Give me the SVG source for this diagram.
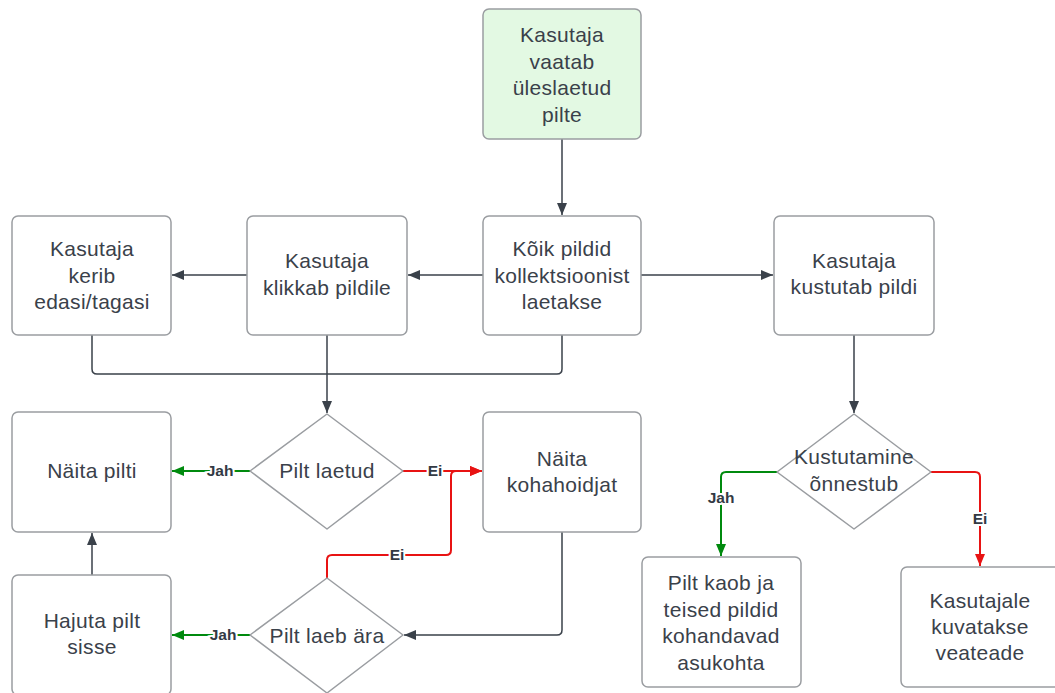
<svg xmlns="http://www.w3.org/2000/svg" width="1055" height="693" viewBox="0 0 1055 693">
<defs>
<style>
.box{fill:#ffffff;stroke:#9a9da1;stroke-width:1.5}
.start{fill:#e3f9e3;stroke:#9a9da1;stroke-width:1.5}
.t{font-family:"Liberation Sans",Arial,sans-serif;font-size:21px;letter-spacing:0.3px;fill:#3a414a;text-anchor:middle}
.lbl{font-family:"Liberation Sans",Arial,sans-serif;font-size:15.5px;font-weight:bold;fill:#333a44;text-anchor:middle;stroke:#ffffff;stroke-width:4;paint-order:stroke}
.c{fill:none;stroke:#3a414a;stroke-width:1.5}
.g{fill:none;stroke:#008a0e;stroke-width:2}
.r{fill:none;stroke:#e81313;stroke-width:2}
</style>
<marker id="ad" markerUnits="userSpaceOnUse" markerWidth="14" markerHeight="14" viewBox="0 0 14 14" refX="13" refY="7" orient="auto"><path d="M1,2 L13,7 L1,12 Z" fill="#3a414a"/></marker>
<marker id="ag" markerUnits="userSpaceOnUse" markerWidth="14" markerHeight="14" viewBox="0 0 14 14" refX="13" refY="7" orient="auto"><path d="M1,2 L13,7 L1,12 Z" fill="#008a0e"/></marker>
<marker id="ar" markerUnits="userSpaceOnUse" markerWidth="14" markerHeight="14" viewBox="0 0 14 14" refX="13" refY="7" orient="auto"><path d="M1,2 L13,7 L1,12 Z" fill="#e81313"/></marker>
</defs>
<rect width="1055" height="693" fill="#ffffff"/>

<g id="connectors">
<path class="c" d="M562,139 L562,215" marker-end="url(#ad)"/>
<path class="c" d="M483,275 L408,275" marker-end="url(#ad)"/>
<path class="c" d="M247,275 L172,275" marker-end="url(#ad)"/>
<path class="c" d="M641,275 L773,275" marker-end="url(#ad)"/>
<path class="c" d="M92,335 L92,369 Q92,374 97,374 L327,374"/>
<path class="c" d="M562,335 L562,369 Q562,374 557,374 L327,374"/>
<path class="c" d="M327,335 L327,413" marker-end="url(#ad)"/>
<path class="c" d="M854,335 L854,413" marker-end="url(#ad)"/>
<path class="g" d="M250,471 L172,471" marker-end="url(#ag)"/>
<path class="r" d="M403,471 L482,471" marker-end="url(#ar)"/>
<path class="r" d="M327,578 L327,560 Q327,555 332,555 L446,555 Q451,555 451,550 L451,476 Q451,471 456,471 L482,471" marker-end="url(#ar)"/>
<path class="c" d="M562,532 L562,630 Q562,635 557,635 L404,635" marker-end="url(#ad)"/>
<path class="g" d="M250,635 L172,635" marker-end="url(#ag)"/>
<path class="c" d="M92,575 L92,533" marker-end="url(#ad)"/>
<path class="g" d="M777,472 L726,472 Q721,472 721,477 L721,556" marker-end="url(#ag)"/>
<path class="r" d="M931,472 L975,472 Q980,472 980,477 L980,566" marker-end="url(#ar)"/>
<text class="lbl" x="220" y="476">Jah</text>
<text class="lbl" x="435" y="476">Ei</text>
<text class="lbl" x="397" y="560">Ei</text>
<text class="lbl" x="223" y="640">Jah</text>
<text class="lbl" x="721" y="503">Jah</text>
<text class="lbl" x="980" y="524">Ei</text>
</g>

<g id="n-start">
<rect class="start" x="483" y="9" width="158" height="130" rx="6"/>
<text class="t"><tspan x="562" y="42">Kasutaja</tspan><tspan x="562" y="69">vaatab</tspan><tspan x="562" y="95">üleslaetud</tspan><tspan x="562" y="122">pilte</tspan></text>
</g>
<g id="n-koik">
<rect class="box" x="483" y="216" width="158" height="119" rx="6"/>
<text class="t"><tspan x="562" y="256">Kõik pildid</tspan><tspan x="562" y="283">kollektsioonist</tspan><tspan x="562" y="309">laetakse</tspan></text>
</g>
<g id="n-kerib">
<rect class="box" x="12" y="216" width="159" height="119" rx="6"/>
<text class="t"><tspan x="92" y="256">Kasutaja</tspan><tspan x="92" y="283">kerib</tspan><tspan x="92" y="309">edasi/tagasi</tspan></text>
</g>
<g id="n-klikkab">
<rect class="box" x="247" y="216" width="160" height="119" rx="6"/>
<text class="t"><tspan x="327" y="268">Kasutaja</tspan><tspan x="327" y="295">klikkab pildile</tspan></text>
</g>
<g id="n-kustutab">
<rect class="box" x="774" y="216" width="160" height="119" rx="6"/>
<text class="t"><tspan x="854" y="268">Kasutaja</tspan><tspan x="854" y="294">kustutab pildi</tspan></text>
</g>
<g id="n-laetud">
<path class="box" d="M327,414 L403,471 L327,529 L250,471 Z" stroke-linejoin="round"/>
<text class="t" x="327" y="478">Pilt laetud</text>
</g>
<g id="n-naita">
<rect class="box" x="12" y="412" width="159" height="120" rx="6"/>
<text class="t" x="92" y="478">Näita pilti</text>
</g>
<g id="n-kohahoidja">
<rect class="box" x="483" y="412" width="158" height="120" rx="6"/>
<text class="t"><tspan x="562" y="466">Näita</tspan><tspan x="562" y="492">kohahoidjat</tspan></text>
</g>
<g id="n-hajuta">
<rect class="box" x="12" y="575" width="159" height="120" rx="6"/>
<text class="t"><tspan x="92" y="628">Hajuta pilt</tspan><tspan x="92" y="654">sisse</tspan></text>
</g>
<g id="n-laeb">
<path class="box" d="M327,578 L403,635 L327,693 L250,635 Z" stroke-linejoin="round"/>
<text class="t" x="327" y="643">Pilt laeb ära</text>
</g>
<g id="n-kustutamine">
<path class="box" d="M854,414 L931,472 L854,529 L777,472 Z" stroke-linejoin="round"/>
<text class="t"><tspan x="854" y="464">Kustutamine</tspan><tspan x="854" y="491">õnnestub</tspan></text>
</g>
<g id="n-kaob">
<rect class="box" x="642" y="557" width="159" height="130" rx="6"/>
<text class="t"><tspan x="721" y="590">Pilt kaob ja</tspan><tspan x="721" y="617">teised pildid</tspan><tspan x="721" y="643">kohandavad</tspan><tspan x="721" y="670">asukohta</tspan></text>
</g>
<g id="n-viga">
<rect class="box" x="901" y="567" width="159" height="120" rx="6"/>
<text class="t"><tspan x="980" y="608">Kasutajale</tspan><tspan x="980" y="634">kuvatakse</tspan><tspan x="980" y="660">veateade</tspan></text>
</g>
</svg>
